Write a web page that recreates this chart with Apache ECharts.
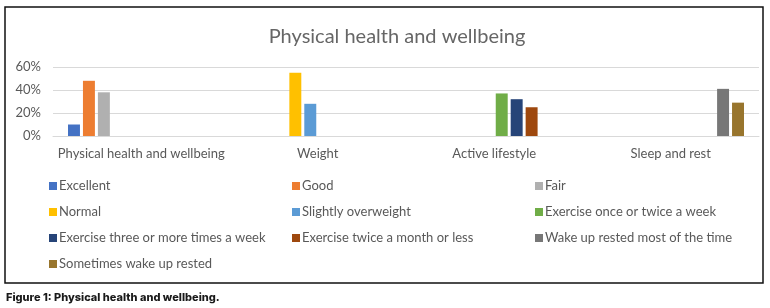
<!DOCTYPE html>
<html>
<head>
<meta charset="utf-8">
<script src="https://cdn.jsdelivr.net/npm/echarts@6/dist/echarts.min.js"></script>
<style>
    html, body { margin: 0; padding: 0; background: #fff; }
    #chart { width: 770px; height: 308px; }
</style>
</head>
<body>
<div id="chart"></div>
<script>
    // categories on the x axis
    const categories = ['Physical health and wellbeing', 'Weight', 'Active lifestyle', 'Sleep and rest']
    const yTicks = [0, 20, 40, 60]

    // one array per series, null where the series has no bar
    const excellent = [10, null, null, null]
    const good = [48, null, null, null]
    const fair = [38, null, null, null]
    const normal = [null, 55, null, null]
    const slightlyOverweight = [null, 28, null, null]
    const exerciseOnceTwiceWeek = [null, null, 37, null]
    const exerciseThreePlusWeek = [null, null, 32, null]
    const exerciseTwiceMonth = [null, null, 25, null]
    const wakeRestedMost = [null, null, null, 41]
    const sometimesRested = [null, null, null, 29]

    const seriesList = [
        { name: 'Excellent', data: excellent, color: '#4472C4' },
        { name: 'Good', data: good, color: '#ED7D31' },
        { name: 'Fair', data: fair, color: '#B0B0B0' },
        { name: 'Normal', data: normal, color: '#FFC000' },
        { name: 'Slightly overweight', data: slightlyOverweight, color: '#5B9BD5' },
        { name: 'Exercise once or twice a week', data: exerciseOnceTwiceWeek, color: '#70AD47' },
        { name: 'Exercise three or more times a week', data: exerciseThreePlusWeek, color: '#264478' },
        { name: 'Exercise twice a month or less', data: exerciseTwiceMonth, color: '#9E480E' },
        { name: 'Wake up rested most of the time', data: wakeRestedMost, color: '#777777' },
        { name: 'Sometimes wake up rested', data: sometimesRested, color: '#98752D' }
    ]

    const font = 'Lato'
    const textColor = '#595959'

    // legend laid out in three columns like the original
    const legendColumns = [
        { left: 44, names: [0, 3, 6, 9] },
        { left: 287, names: [1, 4, 7] },
        { left: 530, names: [2, 5, 8] }
    ]

    const chart = echarts.init(document.getElementById('chart'))
    chart.setOption({
        animation: false,
        textStyle: { fontFamily: font },
        title: {
            text: 'Physical health and wellbeing',
            left: 392,
            top: 22,
            textAlign: 'center',
            textStyle: { fontFamily: font, fontSize: 20, fontWeight: 'normal', color: '#666666' }
        },
        legend: legendColumns.map(col => ({
            orient: 'vertical',
            left: col.left,
            top: 173,
            itemWidth: 8,
            itemHeight: 8,
            itemGap: 10,
            icon: 'rect',
            data: col.names.map(i => seriesList[i].name),
            textStyle: { fontFamily: font, fontSize: 13, color: textColor, lineHeight: 16, padding: [0, 0, 0, -3] }
        })),
        grid: { left: 53, right: 11, top: 67, height: 69 },
        xAxis: {
            type: 'category',
            data: categories,
            axisTick: { show: false },
            axisLine: { lineStyle: { color: '#d9d9d9' } },
            axisLabel: { color: textColor, fontSize: 13, margin: 11, interval: 0 }
        },
        yAxis: {
            type: 'value',
            min: yTicks[0],
            max: yTicks[yTicks.length - 1],
            interval: yTicks[1] - yTicks[0],
            axisLabel: { color: textColor, fontSize: 13, margin: 12, formatter: '{value}%' },
            splitLine: { lineStyle: { color: '#d9d9d9' } }
        },
        series: seriesList.map(s => ({
            name: s.name,
            type: 'bar',
            data: s.data,
            itemStyle: { color: s.color },
            barGap: '25%',
            barCategoryGap: '17%'
        })),
        graphic: [
            {
                type: 'rect',
                shape: { x: 5, y: 7, width: 758, height: 276 },
                style: { fill: null, stroke: '#111', lineWidth: 1.5 },
                silent: true
            },
            {
                type: 'text',
                left: 6,
                top: 292,
                style: {
                    text: 'Figure 1: Physical health and wellbeing.',
                    font: '800 11px Inter',
                    fill: '#1a1a1a'
                }
            }
        ]
    })
</script>
</body>
</html>
